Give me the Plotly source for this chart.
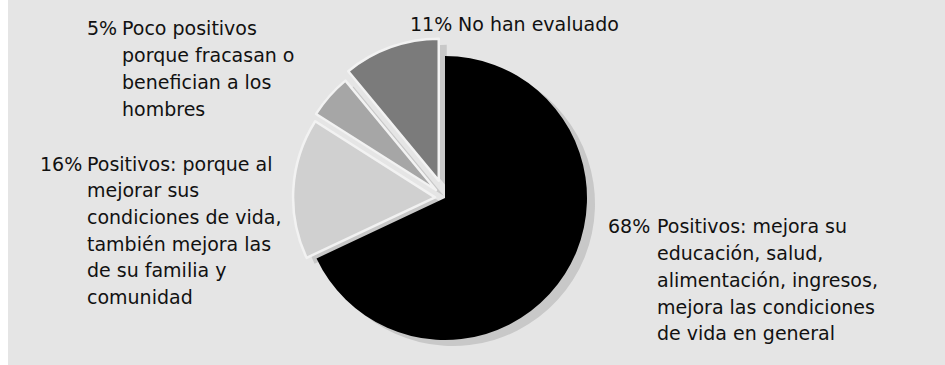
import plotly.graph_objects as go

# Survey shares, clockwise from 12 o'clock
shares = [68, 16, 5, 11]
pct_labels = ["68%", "16%", "5%", "11%"]
body_lines = [
    ["Positivos: mejora su", "educación, salud,", "alimentación, ingresos,",
     "mejora las condiciones", "de vida en general"],
    ["Positivos: porque al", "mejorar sus", "condiciones de vida,",
     "también mejora las", "de su familia y", "comunidad"],
    ["Poco positivos", "porque fracasan o", "benefician a los", "hombres"],
    ["No han evaluado"],
]
slice_colors = ["#000000", "#d0d0d0", "#a6a6a6", "#7b7b7b"]
slice_pull = [0, 0.07, 0.085, 0.13]

W, H = 945, 365
BG = "#e5e5e5"
FONT = "DejaVu Sans"
FS = 19

# pie geometry in pixels
cx, cy, radius = 445, 198, 142
half = radius * (1 + max(slice_pull))
shadow_dx, shadow_dy = 8, 6


def domain(px, py):
    return dict(x=[(px - half) / W, (px + half) / W],
                y=[1 - (py + half) / H, 1 - (py - half) / H])


fig = go.Figure()

# soft drop shadow beneath the slices
fig.add_trace(go.Pie(
    values=shares, sort=False, direction="clockwise", rotation=0,
    pull=slice_pull, textinfo="none", hoverinfo="skip",
    marker=dict(colors=["#c8c8c8"] * len(shares), line=dict(width=0)),
    domain=domain(cx + shadow_dx, cy + shadow_dy), showlegend=False,
))

fig.add_trace(go.Pie(
    values=shares, labels=pct_labels, sort=False, direction="clockwise",
    rotation=0, pull=slice_pull, textinfo="none",
    marker=dict(colors=slice_colors,
                line=dict(color=["#000000", "#f2f2f2", "#f2f2f2", "#f2f2f2"],
                          width=[0, 2.5, 2.5, 2.5])),
    domain=domain(cx, cy), showlegend=False,
))

# label layout: (percent x, body x, first line centre y)
label_pos = [
    (608, 657, 226.5),
    (40, 87, 163.5),
    (87, 122, 28.5),
    (410, 458, 23.5),
]
LINE = 26.7

annotations = []
for pct, lines, (px, bx, y0) in zip(pct_labels, body_lines, label_pos):
    annotations.append(dict(
        x=px / W, y=1 - y0 / H, xref="paper", yref="paper",
        text=pct, showarrow=False, xanchor="left", yanchor="middle",
        borderpad=0, borderwidth=0,
        font=dict(family=FONT, size=FS, color="#111111")))
    for i, line in enumerate(lines):
        annotations.append(dict(
            x=bx / W, y=1 - (y0 + i * LINE) / H, xref="paper", yref="paper",
            text=line, showarrow=False, xanchor="left", yanchor="middle",
            borderpad=0, borderwidth=0,
            font=dict(family=FONT, size=FS, color="#111111")))

fig.update_layout(
    width=W, height=H, margin=dict(l=0, r=0, t=0, b=0),
    paper_bgcolor="white", plot_bgcolor="white",
    shapes=[dict(type="rect", xref="paper", yref="paper",
                 x0=8 / W, x1=1, y0=0, y1=1, fillcolor=BG,
                 line=dict(width=0), layer="below")],
    annotations=annotations,
)

fig.write_html("out.html")
